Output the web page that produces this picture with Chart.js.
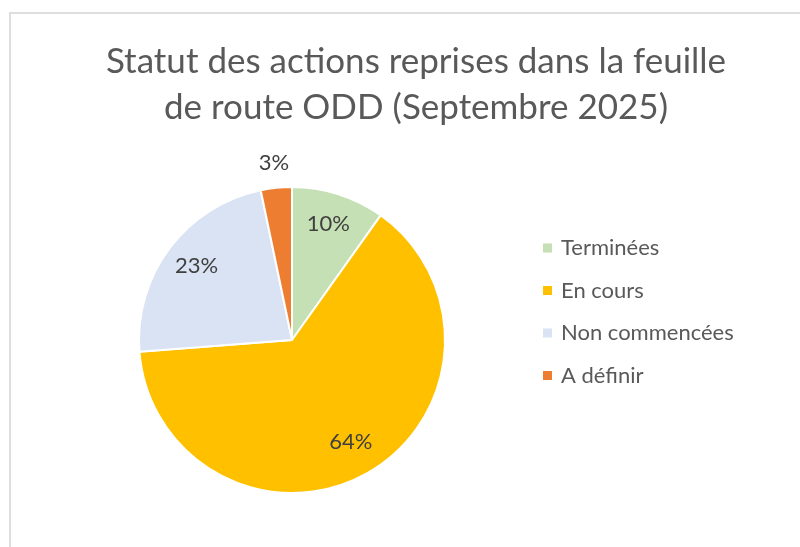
<!DOCTYPE html>
<html lang="fr">
<head>
<meta charset="utf-8">
<title>Statut des actions - feuille de route ODD</title>
<script src="https://cdn.jsdelivr.net/npm/chart.js@4.4.1/dist/chart.umd.min.js"></script>
<style>
  html, body { margin: 0; padding: 0; background: #fff; overflow: hidden; }
  #cadre { position: absolute; left: 9px; top: 12px; width: 800px; height: 547px;
           border-left: 2px solid #dedede; border-top: 2px solid #dedede; }
  #wrap { position: absolute; left: 0; top: 0; width: 800px; height: 547px; }
</style>
</head>
<body>
<div id="cadre"></div>
<div id="wrap"><canvas id="myChart"></canvas></div>
<script>
// Donnees du graphique
const titre = ['Statut des actions reprises dans la feuille', 'de route ODD (Septembre 2025)'];
const categories = ['Terminées', 'En cours', 'Non commencées', 'A définir'];
const nbActions = [6, 39, 14, 2];
const couleurs = ['#C5E0B4', '#FFC000', '#DAE3F3', '#ED7D31'];

const ctx = document.getElementById('myChart');

// Plugin qui dessine le titre, la legende et les pourcentages (facon Excel)
const decor = {
    id: 'decor',
    afterDraw(chart) {
        const c = chart.ctx;
        c.save();

        // titre sur deux lignes
        c.fillStyle = '#595959';
        c.font = '35px Lato';
        c.textAlign = 'center';
        c.textBaseline = 'alphabetic';
        titre.forEach((ligne, i) => c.fillText(ligne, 416, 73 + i * 46));

        // legende a droite
        c.font = '22px Lato';
        c.textAlign = 'left';
        c.textBaseline = 'middle';
        categories.forEach((cat, i) => {
            const y = 248 + i * 42.5;
            c.fillStyle = couleurs[i];
            c.fillRect(543, y - 4.5, 9, 9);
            c.fillStyle = '#595959';
            c.fillText(cat, 561, y);
        });

        // etiquettes en pourcentage
        const meta = chart.getDatasetMeta(0);
        const total = nbActions.reduce((a, b) => a + b, 0);
        c.font = '22px Lato';
        c.fillStyle = '#404040';
        c.textAlign = 'center';
        meta.data.forEach((arc, i) => {
            const part = nbActions[i] / total;
            const milieu = (arc.startAngle + arc.endAngle) / 2;
            const k = part < 0.05 ? 1.15 : 0.78; // petites parts a l'exterieur
            const x = arc.x + Math.cos(milieu) * arc.outerRadius * k;
            const y = arc.y + Math.sin(milieu) * arc.outerRadius * k - 2;
            c.fillText(Math.round(part * 100) + '%', x, y);
        });

        c.restore();
    }
};

const graph = new Chart(ctx, {
    type: 'pie',
    data: {
        labels: categories,
        datasets: [{
            data: nbActions,
            backgroundColor: couleurs,
            borderColor: '#ffffff',
            borderWidth: 2
        }]
    },
    options: {
        responsive: true,
        maintainAspectRatio: false,
        animation: false,
        layout: {
            padding: { top: 186, bottom: 53, left: 138, right: 354 }
        },
        plugins: {
            legend: { display: false },
            title: { display: false }
        }
    },
    plugins: [decor]
});
</script>
</body>
</html>
